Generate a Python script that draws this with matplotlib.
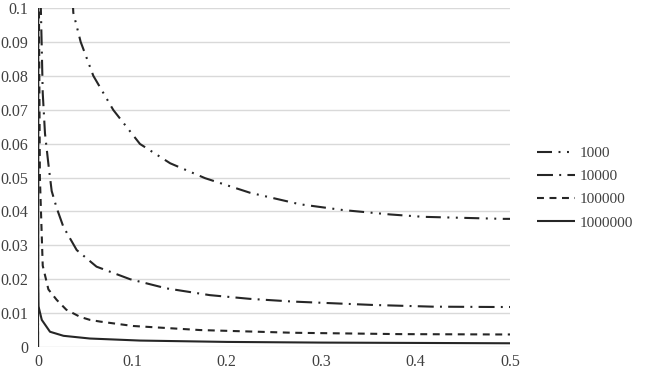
import matplotlib
matplotlib.use("Agg")
import matplotlib.pyplot as plt

plt.rcParams['font.family'] = ['Liberation Serif', 'DejaVu Serif']
plt.rcParams['lines.scale_dashes'] = False

labels = ["1000", "10000", "100000", "1000000"]

x_1000 = [0, 0.0005, 0.02, 0.0374, 0.0452, 0.0586, 0.0798, 0.108, 0.140, 0.177,
          0.2246, 0.2775, 0.323, 0.373, 0.408, 0.450, 0.4926, 0.5]
y_1000 = [0, 3, 0.2, 0.0986, 0.090, 0.080, 0.0699, 0.0599, 0.0542, 0.0498,
          0.0455, 0.0421, 0.0404, 0.0391, 0.0384, 0.0381, 0.0378, 0.0378]

x_10000 = [0, 0.0003, 0.003, 0.004, 0.005, 0.0074, 0.011, 0.0145, 0.0198, 0.0268,
           0.041, 0.062, 0.0975, 0.136, 0.182, 0.2246, 0.270, 0.355, 0.418, 0.486, 0.5]
y_10000 = [0, 3, 0.1, 0.088, 0.075, 0.063, 0.054, 0.046, 0.041, 0.0355,
           0.0286, 0.0237, 0.0200, 0.0173, 0.0153, 0.0142, 0.0134, 0.0124, 0.0119, 0.0118, 0.0118]

x_100000 = [0, 0.0001, 0.001, 0.002, 0.005, 0.011, 0.0198, 0.030, 0.0445, 0.055,
            0.0657, 0.1006, 0.1716, 0.27, 0.383, 0.489, 0.5]
y_100000 = [0, 3, 0.1, 0.05, 0.024, 0.017, 0.0139, 0.011, 0.0089, 0.008,
            0.0075, 0.0062, 0.005, 0.0042, 0.0038, 0.0037, 0.0037]

x_1000000 = [0, 0.00003, 0.0002, 0.0005, 0.004, 0.0127, 0.027, 0.055, 0.108, 0.2, 0.3, 0.4, 0.5]
y_1000000 = [0, 3, 0.02, 0.012, 0.008, 0.0045, 0.0033, 0.0025, 0.0019, 0.0015, 0.0013, 0.0012, 0.0011]

xticks = [0, 0.1, 0.2, 0.3, 0.4, 0.5]
xtick_labels = ["0", "0.1", "0.2", "0.3", "0.4", "0.5"]
yticks = [0, 0.01, 0.02, 0.03, 0.04, 0.05, 0.06, 0.07, 0.08, 0.09, 0.1]
ytick_labels = ["0", "0.01", "0.02", "0.03", "0.04", "0.05", "0.06", "0.07", "0.08", "0.09", "0.1"]

fig = plt.figure(figsize=(6.48, 3.88), dpi=100)
ax = fig.add_axes([38/648, 1 - 347/388, (510 - 38)/648, (347 - 8)/388])

col = '#262626'
lw = 1.5
styles = [
    (0, (10.8, 4.7, 1.4, 4.7, 1.4, 4.7)),
    (0, (11.5, 4.5, 1.4, 4.5)),
    (0, (5, 4)),
    '-',
]
series = [(x_1000, y_1000), (x_10000, y_10000), (x_100000, y_100000), (x_1000000, y_1000000)]
for (xs, ys), ls, lab in zip(series, styles, labels):
    ax.plot(xs, ys, color=col, lw=lw, linestyle=ls, label=lab, solid_capstyle='butt', dash_capstyle='butt')

ax.set_xlim(0, 0.5)
ax.set_ylim(0, 0.1)
ax.set_xticks(xticks)
ax.set_xticklabels(xtick_labels)
ax.set_yticks(yticks)
ax.set_yticklabels(ytick_labels)
ax.tick_params(length=0, labelsize=11.5, colors='#404040')
ax.tick_params(axis='x', pad=5)
ax.tick_params(axis='y', pad=7)
ax.grid(axis='y', color='#d9d9d9', lw=1)
ax.set_axisbelow(True)
for s in ax.spines.values():
    s.set_visible(False)

leg = fig.legend(loc='center left', bbox_to_anchor=(537/648, 1 - 188/388), frameon=False,
                 fontsize=11, handlelength=2.5, handletextpad=0.3, labelspacing=0.62,
                 borderpad=0, borderaxespad=0)
for t in leg.get_texts():
    t.set_color('#404040')

fig.savefig("out.png", dpi=100)
